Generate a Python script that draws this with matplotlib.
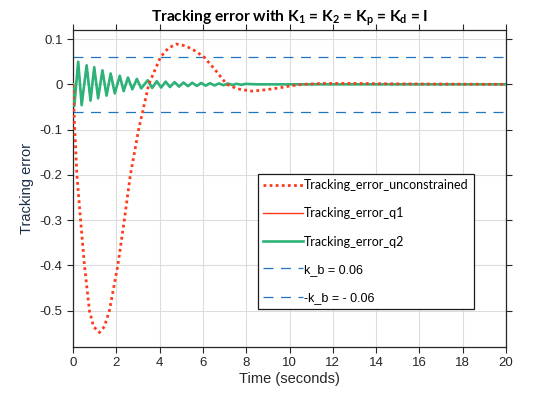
import matplotlib
matplotlib.use("Agg")
import matplotlib.pyplot as plt

# unconstrained tracking error
t_unc = [0, 0.08, 0.18, 0.35, 0.53, 0.76, 0.95, 1.22, 1.45, 1.68, 2.07, 2.37,
         2.65, 3.03, 3.5, 4.04, 4.4, 4.78, 5.2, 5.6, 6.06, 6.6, 7.1, 7.6, 8.27,
         8.9, 9.5, 10.1, 10.6, 11.5, 13.0, 15.0, 20.0]
e_unc = [0, -0.1, -0.2, -0.3, -0.4, -0.5, -0.535, -0.548, -0.535, -0.5, -0.4,
         -0.3, -0.2, -0.1, 0.0, 0.06, 0.08, 0.089, 0.085, 0.075, 0.06, 0.03,
         0.0, -0.01, -0.015, -0.012, -0.008, -0.003, 0.0, 0.002, 0.002, 0.001, 0.0]

# constrained tracking error (q1 and q2 overlap)
t_q = [0, 0.06, 0.24, 0.40, 0.63, 0.81, 0.98, 1.16, 1.36, 1.55, 1.74, 1.93,
       2.16, 2.34, 2.54, 2.74, 2.95, 3.15, 3.45, 3.66, 3.87, 4.07, 4.28, 4.48,
       4.69, 4.90, 5.10, 5.31, 5.51, 5.72, 5.92, 6.13, 6.33, 6.54, 6.74, 6.95,
       7.15, 7.36, 7.56, 7.77, 7.97, 8.5, 9.0, 10.0, 20.0]
e_q = [0, -0.048, 0.05, -0.046, 0.042, -0.036, 0.038, -0.031, 0.031, -0.025,
       0.024, -0.02, 0.019, -0.015, 0.015, -0.011, 0.012, -0.009, 0.009,
       -0.008, 0.007, -0.007, 0.006, -0.006, 0.005, -0.005, 0.004, -0.004,
       0.0035, -0.0035, 0.003, -0.003, 0.0025, -0.0025, 0.002, -0.002, 0.0018,
       -0.0015, 0.0012, -0.001, 0.001, 0.0, 0.0, 0.0, 0.0]

k_b = 0.06
x_ticks = [0, 2, 4, 6, 8, 10, 12, 14, 16, 18, 20]
y_ticks = [-0.5, -0.4, -0.3, -0.2, -0.1, 0, 0.1]
y_labels = ["-0.5", "-0.4", "-0.3", "-0.2", "-0.1", "0", "0.1"]

plt.rcParams["font.family"] = ["Liberation Sans", "DejaVu Sans"]

fig = plt.figure(figsize=(5.6, 3.95), dpi=100)
ax = fig.add_axes([73 / 560, 1 - 347 / 395, 433 / 560, 317 / 395])

ax.plot(t_unc, e_unc, color="#ff3a1a", linestyle=(0, (1, 1.2)), linewidth=2.0,
        label="Tracking_error_unconstrained", zorder=4)
ax.plot(t_q, e_q, color="#ff3a1a", linewidth=1.0, label="Tracking_error_q1",
        zorder=2)
ax.plot(t_q, e_q, color="#2db37a", linewidth=1.9, label="Tracking_error_q2",
        zorder=3, solid_joinstyle="round")
ax.plot([0, 20], [k_b, k_b], color="#1f77c4", linestyle=(0, (8, 6)),
        linewidth=0.9, label="k_b = 0.06", zorder=1)
ax.plot([0, 20], [-k_b, -k_b], color="#1f77c4", linestyle=(0, (8, 6)),
        linewidth=0.9, label="-k_b = - 0.06", zorder=1)

ax.set_xlim(0, 20)
ax.set_ylim(-0.58, 0.12)
ax.set_xticks(x_ticks)
ax.set_yticks(y_ticks)
ax.set_yticklabels(y_labels)
ax.grid(True, color="#dcdcdc", linewidth=0.8)
ax.set_axisbelow(True)
ax.tick_params(direction="out", length=4, width=0.8, labelsize=9.5,
               colors="#262626", top=True, right=True)
for sp in ax.spines.values():
    sp.set_color("#262626")
    sp.set_linewidth(0.9)

ax.set_xlabel("Time (seconds)", fontsize=10.5, color="#262626", labelpad=2)
ax.set_ylabel("Tracking error", fontsize=10.5, color="#1c2c4c", labelpad=4)
ax.set_title(r"Tracking error with $\mathregular{K_1}$ = $\mathregular{K_2}$ = "
             r"$\mathregular{K_p}$ = $\mathregular{K_d}$ = I",
             fontsize=11.2, fontweight="bold", family="Lato", pad=6)

leg = ax.legend(loc="upper left", bbox_to_anchor=(258 / 560, 1 - 174 / 395),
                bbox_transform=fig.transFigure, fancybox=False, framealpha=1,
                edgecolor="#1a1a1a", fontsize=9.0, handlelength=3.2,
                handletextpad=0.1, labelspacing=1.3, borderpad=0.4,
                borderaxespad=0)
leg.get_frame().set_linewidth(0.9)
for i, txt in enumerate(leg.get_texts()):
    txt.set_family("Lato" if i < 3 else "Liberation Sans")

fig.savefig("out.png", dpi=100)
